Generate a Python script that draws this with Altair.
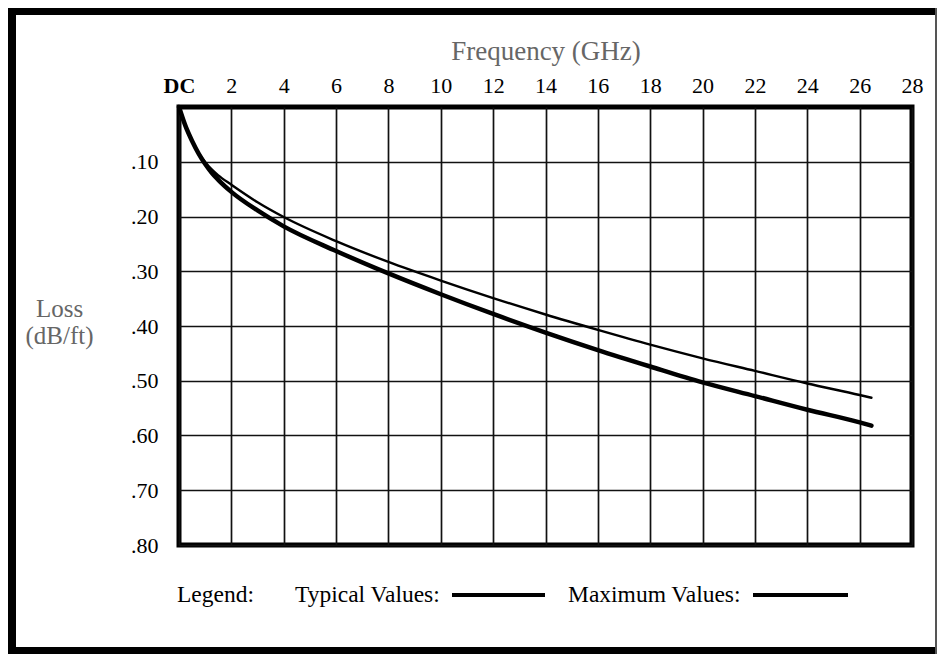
import altair as alt
import pandas as pd

# ---- data ----
freq_ghz = [0, 0.25, 0.5, 0.75, 1, 1.25, 1.5, 2, 3, 4, 6, 8, 10, 12, 14, 16, 18, 20, 22, 24, 26, 26.45]
typical_loss = [0, 0.035, 0.062, 0.084, 0.101, 0.114, 0.125, 0.142, 0.174, 0.201, 0.245, 0.283,
                0.317, 0.349, 0.379, 0.407, 0.434, 0.459, 0.482, 0.505, 0.526, 0.531]
maximum_loss = [0, 0.035, 0.062, 0.085, 0.104, 0.120, 0.133, 0.155, 0.189, 0.218, 0.263, 0.304,
                0.342, 0.378, 0.412, 0.444, 0.474, 0.503, 0.528, 0.553, 0.576, 0.582]
series_names = ["Typical", "Maximum"]
x_ticks = [0, 2, 4, 6, 8, 10, 12, 14, 16, 18, 20, 22, 24, 26, 28]
y_ticks = [0.1, 0.2, 0.3, 0.4, 0.5, 0.6, 0.7, 0.8]
x_title = "Frequency (GHz)"
y_title = ["Loss", "(dB/ft)"]
legend_texts = ["Legend:", "Typical Values:", "Maximum Values:"]

df = pd.DataFrame({
    "freq": freq_ghz + freq_ghz,
    "loss": typical_loss + maximum_loss,
    "series": [series_names[0]] * len(freq_ghz) + [series_names[1]] * len(freq_ghz),
})

FONT = "Liberation Serif"
W, H = 733, 438
PAD = {"left": 171, "top": 99, "right": 25, "bottom": 109}

x_scale = alt.Scale(domain=[0, 28], nice=False, zero=False)
y_scale = alt.Scale(domain=[0, 0.8], reverse=True, nice=False, zero=False)

lines = alt.Chart(df).mark_line(interpolate="monotone", strokeCap="round").encode(
    x=alt.X("freq:Q", scale=x_scale,
            axis=alt.Axis(orient="top", values=x_ticks, grid=True,
                          labelExpr="datum.value == 0 ? 'DC' : datum.label",
                          labelFontWeight={"condition": {"test": "datum.value == 0", "value": "bold"},
                                           "value": "normal"},
                          labelFlush=False, labelOverlap=False, labelBound=False,
                          labelBaseline="alphabetic", labelPadding=15,
                          title=x_title, titleX=W / 2, titleY=-48, titleAlign="center",
                          titleBaseline="alphabetic", titleFontSize=27)),
    y=alt.Y("loss:Q", scale=y_scale,
            axis=alt.Axis(values=y_ticks, grid=True,
                          labelExpr="'.' + substring(format(datum.value, '.2f'), 2)",
                          labelFlush=False, labelOverlap=False, labelBaseline="middle",
                          labelPadding=21,
                          title=y_title, titleAngle=0, titleX=-120, titleY=209,
                          titleAlign="center", titleBaseline="alphabetic",
                          titleFontSize=25, titleLineHeight=27)),
    color=alt.Color("series:N", scale=alt.Scale(domain=series_names, range=["black", "black"]),
                    legend=None),
    strokeWidth=alt.StrokeWidth("series:N", scale=alt.Scale(domain=series_names, range=[2.4, 4.5]),
                                legend=None),
)

one = alt.Data(values=[{"k": 0}])


def band(x1, x2, y1, y2, color="black"):
    return alt.Chart(one).mark_rect(color=color).encode(
        x=alt.value(x1), x2=alt.value(x2), y=alt.value(y1), y2=alt.value(y2))


frame = [
    band(-171, -163, -99, 547),   # left thick band
    band(-171, 758, -99, -92),    # top thick band
    band(-171, 758, 540, 547),    # bottom thick band
    band(756, 758, -99, 547, "#555"),  # right thin edge
]


def txt(s, x):
    return alt.Chart(one).mark_text(font=FONT, fontSize=23.5, align="left",
                                    baseline="alphabetic", color="black").encode(
        x=alt.value(x), y=alt.value(495), text=alt.value(s))


def swatch(x1, x2):
    return alt.Chart(one).mark_rule(color="black", strokeWidth=3.8).encode(
        x=alt.value(x1), x2=alt.value(x2), y=alt.value(488))


legend = [
    txt(legend_texts[0], -2),
    txt(legend_texts[1], 116),
    swatch(273, 366),
    txt(legend_texts[2], 389),
    swatch(574, 669),
]

chart = alt.layer(lines, *frame, *legend).properties(
    width=W, height=H, padding=PAD,
    autosize=alt.AutoSizeParams(type="none"),
).configure_view(
    stroke="black", strokeWidth=5,
).configure_axis(
    domain=False, ticks=False, tickSize=0,
    gridColor="#111", gridWidth=1.7, gridOpacity=1,
    labelFont=FONT, labelFontSize=22, labelColor="black",
    titleFont=FONT, titleColor="#666", titleFontWeight="normal",
)

chart.save("out.html", embed_options={"renderer": "svg", "actions": False})
